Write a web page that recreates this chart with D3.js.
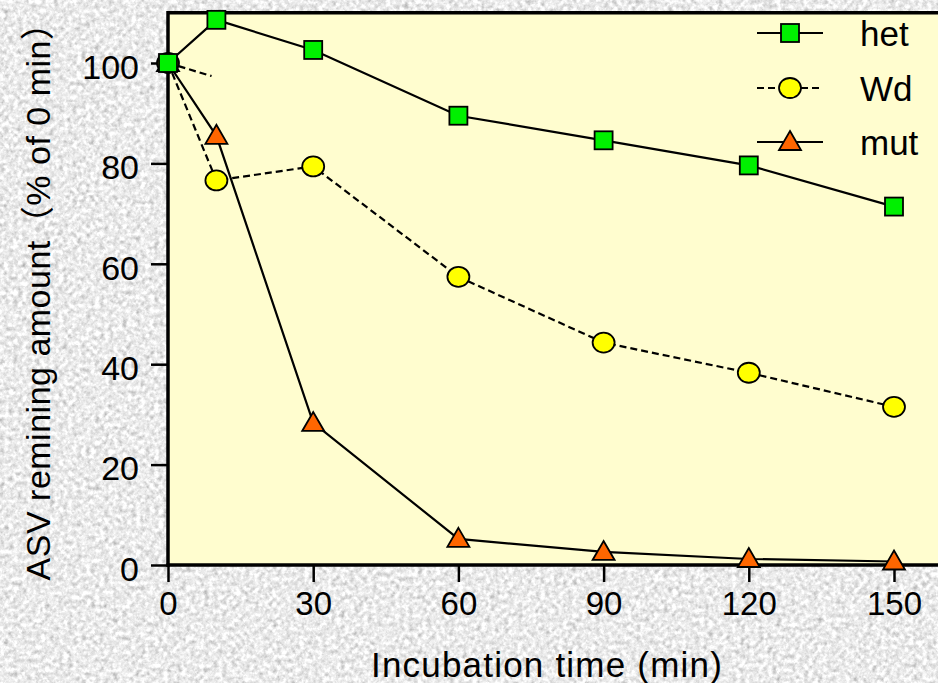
<!DOCTYPE html>
<html>
<head>
<meta charset="utf-8">
<script src="https://cdn.jsdelivr.net/npm/d3@7"></script>
<style>
  body { margin: 0; overflow: hidden; }
  svg { display: block; }
</style>
</head>
<body>
<script>
// incubation times (min)
const times = [0, 10, 30, 60, 90, 120, 150];
const xTicks = [0, 30, 60, 90, 120, 150];
const yTicks = [0, 20, 40, 60, 80, 100];

// ASV remaining amount (% of 0 min)
const het = [100, 108.6, 102.6, 89.5, 84.6, 79.6, 71.4];
const wd = [100, 76.6, 79.4, 57.4, 44.3, 38.3, 31.5];
const mut = [100, 85.5, 28.3, 5.2, 2.6, 1.2, 0.7];
// stray dashed stub in the original figure
const stubX = [0, 9];
const stubY = [100, 97.4];

const seriesNames = ["het", "Wd", "mut"];

const w = 938, h = 683;
const font = "'Liberation Sans', Arial, 'Noto Sans CJK JP', sans-serif";

const svg = d3.select("body").append("svg")
    .attr("width", w)
    .attr("height", h);

// stone-like grey backdrop
const defs = svg.append("defs");
const f = defs.append("filter").attr("id", "stone")
    .attr("x", 0).attr("y", 0).attr("width", 1).attr("height", 1)
    .attr("color-interpolation-filters", "sRGB");
f.append("feTurbulence")
    .attr("type", "fractalNoise")
    .attr("baseFrequency", 0.22)
    .attr("numOctaves", 3)
    .attr("seed", 7);
f.append("feColorMatrix")
    .attr("type", "matrix")
    .attr("values",
        "0.26 0.26 0.26 0 0.53 " +
        "0.26 0.26 0.26 0 0.53 " +
        "0.26 0.26 0.26 0 0.53 " +
        "0 0 0 0 1");

svg.append("rect")
    .attr("width", w).attr("height", h)
    .attr("fill", "#dadada")
    .attr("filter", "url(#stone)");

const xScale = d3.scaleLinear().domain([0, 150]).range([168, 894]);
const yScale = d3.scaleLinear().domain([0, 100]).range([565, 63]);

// plot panel
const plotTop = yScale(110);
svg.append("rect")
    .attr("x", xScale(0))
    .attr("y", plotTop)
    .attr("width", w - xScale(0) + 5)
    .attr("height", yScale(0) - plotTop)
    .attr("fill", "#fffdcf");

svg.append("line")
    .attr("x1", xScale(0)).attr("x2", w)
    .attr("y1", plotTop).attr("y2", plotTop)
    .attr("stroke", "#000").attr("stroke-width", 3.5);

// axes
const xAxis = svg.append("g")
    .attr("transform", "translate(0," + yScale(0) + ")")
    .call(d3.axisBottom(xScale).tickValues(xTicks).tickSize(17).tickPadding(10).tickSizeOuter(0));
xAxis.select(".domain").remove();
xAxis.selectAll(".tick line").attr("stroke-width", 2.5);
xAxis.selectAll("text")
    .attr("font-family", font)
    .attr("font-size", 33)
    .attr("fill", "#000");
svg.append("line")
    .attr("x1", xScale(0) - 1.5).attr("x2", w)
    .attr("y1", yScale(0)).attr("y2", yScale(0))
    .attr("stroke", "#000").attr("stroke-width", 3.5);

const yAxis = svg.append("g")
    .attr("transform", "translate(" + xScale(0) + ",0)")
    .call(d3.axisLeft(yScale).tickValues(yTicks).tickSize(17).tickPadding(12).tickSizeOuter(0));
yAxis.select(".domain").remove();
yAxis.selectAll(".tick line").attr("stroke-width", 2.5);
yAxis.selectAll("text")
    .attr("font-family", font)
    .attr("font-size", 34)
    .attr("dy", "0.45em")
    .attr("fill", "#000");
svg.append("line")
    .attr("x1", xScale(0)).attr("x2", xScale(0))
    .attr("y1", plotTop - 1.75).attr("y2", yScale(0) + 1.75)
    .attr("stroke", "#000").attr("stroke-width", 3.5);

// axis titles
svg.append("text")
    .attr("x", 547).attr("y", 677)
    .attr("text-anchor", "middle")
    .attr("font-family", font)
    .attr("font-size", 35)
    .attr("letter-spacing", 1.2)
    .text("Incubation time (min)");

svg.append("text")
    .attr("text-anchor", "middle")
    .attr("transform", "translate(50," + 293 + ")rotate(-90)")
    .attr("font-family", font)
    .attr("font-size", 34)
    .attr("letter-spacing", 0.5)
    .text("ASV remining amount（% of 0 min）");

// lines
const line = d3.line()
    .x(function (d) { return xScale(d[0]); })
    .y(function (d) { return yScale(d[1]); });

const series = [
    { name: "het", vals: het, dash: null, shape: "square", fill: "#00f000" },
    { name: "Wd", vals: wd, dash: "7,4", shape: "circle", fill: "#ffff00" },
    { name: "mut", vals: mut, dash: null, shape: "triangle", fill: "#ff6600" }
];

svg.append("path")
    .datum(d3.zip(stubX, stubY))
    .attr("d", line)
    .attr("fill", "none")
    .attr("stroke", "#000")
    .attr("stroke-width", 2.2)
    .attr("stroke-dasharray", "7,4");

// draw mut first so het sits on top like the original
const order = [series[2], series[1], series[0]];

function drawMarker(g, s, cx, cy) {
    if (s.shape === "square") {
        g.append("rect")
            .attr("x", cx - 9).attr("y", cy - 9)
            .attr("width", 18).attr("height", 18)
            .attr("fill", s.fill).attr("stroke", "#000").attr("stroke-width", 1.8);
    } else if (s.shape === "circle") {
        g.append("ellipse")
            .attr("cx", cx).attr("cy", cy)
            .attr("rx", 11).attr("ry", 10)
            .attr("fill", s.fill).attr("stroke", "#000").attr("stroke-width", 1.8);
    } else {
        g.append("path")
            .attr("d", "M" + cx + "," + (cy - 11) + "L" + (cx + 11) + "," + (cy + 8) + "L" + (cx - 11) + "," + (cy + 8) + "Z")
            .attr("fill", s.fill).attr("stroke", "#000").attr("stroke-width", 1.8)
            .attr("stroke-linejoin", "miter");
    }
}

order.forEach(function (s) {
    const pts = d3.zip(times, s.vals);
    svg.append("path")
        .datum(pts)
        .attr("d", line)
        .attr("fill", "none")
        .attr("stroke", "#000")
        .attr("stroke-width", 2.2)
        .attr("stroke-dasharray", s.dash);
});
order.forEach(function (s) {
    const g = svg.append("g");
    times.forEach(function (t, i) {
        drawMarker(g, s, xScale(t), yScale(s.vals[i]));
    });
});

// legend
const legendY = [33, 88, 142];
series.forEach(function (s, i) {
    const g = svg.append("g");
    g.append("line")
        .attr("x1", 757).attr("x2", 823)
        .attr("y1", legendY[i]).attr("y2", legendY[i])
        .attr("stroke", "#000").attr("stroke-width", 2.2)
        .attr("stroke-dasharray", s.dash);
    drawMarker(g, s, 790, legendY[i]);
    g.append("text")
        .attr("x", 860).attr("y", legendY[i] + 13)
        .attr("font-family", font)
        .attr("font-size", 35)
        .text(seriesNames[i]);
});
</script>
</body>
</html>
